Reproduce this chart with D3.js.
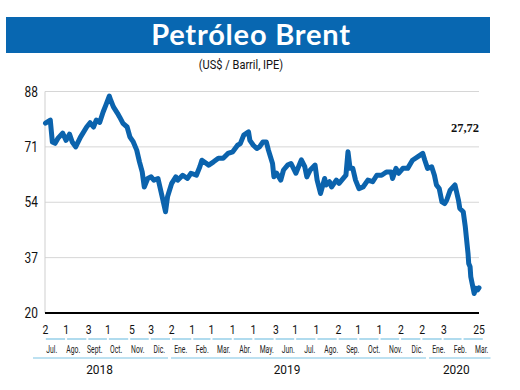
<!DOCTYPE html>
<html><head><meta charset="utf-8">
<script src="https://cdn.jsdelivr.net/npm/d3@7"></script>
<style>
html,body{margin:0;padding:0;background:#fff;}
svg{display:block;}
</style></head>
<body>
<svg id="c" width="520" height="390"></svg>
<script>
// ---------- DATA ----------
const title = "Petróleo Brent";
const subtitle = "(US$ / Barril, IPE)";
const lastLabel = "27,72";
const yTicks = [20, 37, 54, 71, 88];
const dates = [
"2018-07-02","2018-07-09","2018-07-12","2018-07-16","2018-07-20","2018-07-27","2018-08-01","2018-08-06","2018-08-10","2018-08-15",
"2018-08-22","2018-08-31","2018-09-05","2018-09-10","2018-09-14","2018-09-19","2018-09-24","2018-09-28","2018-10-03","2018-10-05",
"2018-10-09","2018-10-15","2018-10-18","2018-10-23","2018-10-29","2018-11-02","2018-11-07","2018-11-12","2018-11-16","2018-11-20",
"2018-11-23","2018-11-28","2018-12-03","2018-12-07","2018-12-13","2018-12-18","2018-12-24","2018-12-27","2019-01-02","2019-01-08",
"2019-01-11","2019-01-18","2019-01-25","2019-01-30","2019-02-07","2019-02-12","2019-02-15","2019-02-25","2019-03-04","2019-03-11",
"2019-03-18","2019-03-25","2019-04-01","2019-04-08","2019-04-12","2019-04-17","2019-04-24","2019-04-26","2019-05-01","2019-05-06",
"2019-05-10","2019-05-15","2019-05-20","2019-05-23","2019-05-29","2019-05-31","2019-06-04","2019-06-10","2019-06-14","2019-06-20",
"2019-06-25","2019-07-02","2019-07-10","2019-07-15","2019-07-18","2019-07-23","2019-07-30","2019-08-02","2019-08-07","2019-08-13",
"2019-08-15","2019-08-20","2019-08-23","2019-08-30","2019-09-03","2019-09-13","2019-09-16","2019-09-19","2019-09-23","2019-09-27",
"2019-10-02","2019-10-08","2019-10-15","2019-10-22","2019-10-28","2019-11-04","2019-11-11","2019-11-18","2019-11-20","2019-11-25",
"2019-11-29","2019-12-05","2019-12-12","2019-12-19","2019-12-27","2020-01-03","2020-01-06","2020-01-10","2020-01-16","2020-01-20",
"2020-01-23","2020-01-27","2020-01-31","2020-02-04","2020-02-07","2020-02-12","2020-02-19","2020-02-24","2020-02-26","2020-03-02",
"2020-03-05","2020-03-09","2020-03-10","2020-03-12","2020-03-13","2020-03-18","2020-03-20","2020-03-23","2020-03-25"];
const prices = [
78.3,79.2,72.5,72.1,73.6,75.2,73.0,74.9,72.5,71.0,
74.0,77.1,78.4,77.1,79.2,78.5,81.7,83.8,86.6,85.4,
83.3,81.3,80.2,78.2,77.1,74.1,72.5,70.0,66.4,63.3,
58.7,61.3,61.8,60.8,61.3,56.7,51.1,55.8,59.8,61.8,
60.8,62.3,61.3,62.9,62.3,64.9,66.9,65.4,66.4,67.5,
67.5,69.0,69.5,71.5,72.0,74.6,75.6,73.0,71.5,70.5,
71.0,72.5,72.5,70.0,65.9,61.8,62.9,60.8,63.9,65.4,
65.9,62.9,67.0,64.9,61.8,63.9,65.4,60.8,56.7,61.3,
59.3,60.3,58.7,60.8,59.8,62.3,69.5,64.4,64.4,60.8,
58.2,58.7,60.8,60.3,62.3,62.3,63.3,63.3,61.3,64.4,
62.9,64.4,64.4,66.9,68.0,69.0,66.9,64.4,64.9,62.3,
59.3,58.2,54.1,53.6,54.7,57.7,59.3,54.7,52.1,51.1,
46.5,38.3,35.2,34.2,31.1,26.0,27.6,27.1,27.72];
const dayTicks = ["2018-07-02","2018-08-01","2018-09-03","2018-10-01","2018-11-05","2018-12-03",
"2019-01-02","2019-02-01","2019-03-01","2019-04-01","2019-05-01","2019-06-03","2019-07-01","2019-08-01",
"2019-09-02","2019-10-01","2019-11-01","2019-12-02","2020-01-02","2020-02-03","2020-03-25"];
const monthStarts = ["2018-07-01","2018-08-01","2018-09-01","2018-10-01","2018-11-01","2018-12-01",
"2019-01-01","2019-02-01","2019-03-01","2019-04-01","2019-05-01","2019-06-01","2019-07-01","2019-08-01",
"2019-09-01","2019-10-01","2019-11-01","2019-12-01","2020-01-01","2020-02-01","2020-03-01","2020-04-01"];
const monthLabels = ["Jul.","Ago.","Sept.","Oct.","Nov.","Dic.","Ene.","Feb.","Mar.","Abr.","May.","Jun.",
"Jul.","Ago.","Sep.","Oct.","Nov.","Dic.","Ene.","Feb.","Mar."];
const years = ["2018","2019","2020"];
const yearMonthCounts = [6, 12, 3];

// ---------- CHART ----------
const parse = d3.timeParse("%Y-%m-%d");
const svg = d3.select("#c");
const blue = "#0b63ad";
const light = "#7cc3e3";
const narrow = "Roboto, 'Liberation Sans', sans-serif";

function condensed(sel, xf, yf, sx, size, anchor, fill) {
  sel.attr("transform",(d,i)=>`translate(${xf(d,i)},${yf(d,i)}) scale(${sx},1)`)
     .attr("text-anchor",anchor).attr("font-family",narrow)
     .attr("font-size",size).attr("fill",fill);
}

// title bar
svg.append("rect").attr("x",6).attr("y",17).attr("width",484).attr("height",36).attr("fill","#0867b1");
svg.append("text").attr("x",251).attr("y",45).attr("text-anchor","middle")
  .attr("font-family","Lato, 'Open Sans', sans-serif").attr("font-weight",700).attr("font-size",29)
  .attr("fill","#fff").attr("letter-spacing",0.8).text(title);
svg.append("text").datum(subtitle)
  .call(condensed, ()=>241, ()=>69, 0.92, 12, "middle", "#111").text(d=>d);

const x = d3.scaleTime().domain([parse("2018-07-02"), parse("2020-03-25")]).range([45.5, 479]);
const y = d3.scaleLinear().domain([20, 88]).range([313, 91.5]);
const left = 45, right = 479;

// gridlines
svg.append("g").selectAll("line").data(yTicks.slice(1)).join("line")
  .attr("x1",left).attr("x2",right).attr("y1",d=>y(d)).attr("y2",d=>y(d))
  .attr("stroke","#d6d6d6").attr("stroke-width",1);
svg.append("line").attr("x1",left).attr("x2",left).attr("y1",y(88)).attr("y2",y(20))
  .attr("stroke","#cfcfcf").attr("stroke-width",1);

// y labels
svg.append("g").selectAll("text").data(yTicks).join("text")
  .call(condensed, ()=>38, d=>y(d)+5, 0.85, 14, "end", "#111").text(d=>d);

// line
const series = dates.map((d,i)=>({date:parse(d), v:prices[i]}));
svg.append("path").datum(series)
  .attr("d", d3.line().x(d=>x(d.date)).y(d=>y(d.v)))
  .attr("fill","none").attr("stroke",blue).attr("stroke-width",5)
  .attr("stroke-linejoin","round").attr("stroke-linecap","round");

// baseline
svg.append("line").attr("x1",left).attr("x2",right).attr("y1",y(20)).attr("y2",y(20))
  .attr("stroke","#000").attr("stroke-width",2);

// last value label
svg.append("text").attr("x",479).attr("y",132).attr("text-anchor","end")
  .attr("font-family","'Liberation Serif', serif").attr("font-weight",700).attr("font-size",12.5)
  .attr("fill","#111").text(lastLabel);

// day labels
svg.append("g").selectAll("text").data(dayTicks).join("text")
  .call(condensed, d=>x(parse(d)), ()=>334, 0.8, 13, "middle", "#111").text(d=>+d.slice(8));

// day underline segments (calendar months)
const ms = monthStarts.map(parse);
svg.append("g").selectAll("line").data(ms.slice(0,-1)).join("line")
  .attr("x1",(d,i)=>x(d)+1).attr("x2",(d,i)=>x(ms[i+1])-1)
  .attr("y1",339).attr("y2",339).attr("stroke",light).attr("stroke-width",1.2);

// month labels (band)
const mb = d3.scaleBand().domain(d3.range(monthLabels.length)).range([41, 492.5]);
svg.append("g").selectAll("text").data(monthLabels).join("text")
  .call(condensed, (d,i)=>mb(i)+mb.bandwidth()/2, ()=>353, 0.68, 10, "middle", "#222").text(d=>d);

// year segments
let start = 0;
const yr = years.map((yy,i)=>{const s=start; start+=yearMonthCounts[i]; return {y:yy,s:s,e:start-1};});
svg.append("g").selectAll("line").data(yr).join("line")
  .attr("x1",d=>mb(d.s)+ (d.s===0? -8 : 1)).attr("x2",d=>mb(d.e)+mb.bandwidth()-2)
  .attr("y1",358).attr("y2",358).attr("stroke",light).attr("stroke-width",1.2);
svg.append("g").selectAll("text").data(yr).join("text")
  .call(condensed, d=>(mb(d.s)+mb(d.e)+mb.bandwidth())/2 - (d.s===0?6:(d.s===6?12:4)), ()=>374, 0.88, 13.5, "middle", "#111")
  .text(d=>d.y);
</script>
</body></html>
